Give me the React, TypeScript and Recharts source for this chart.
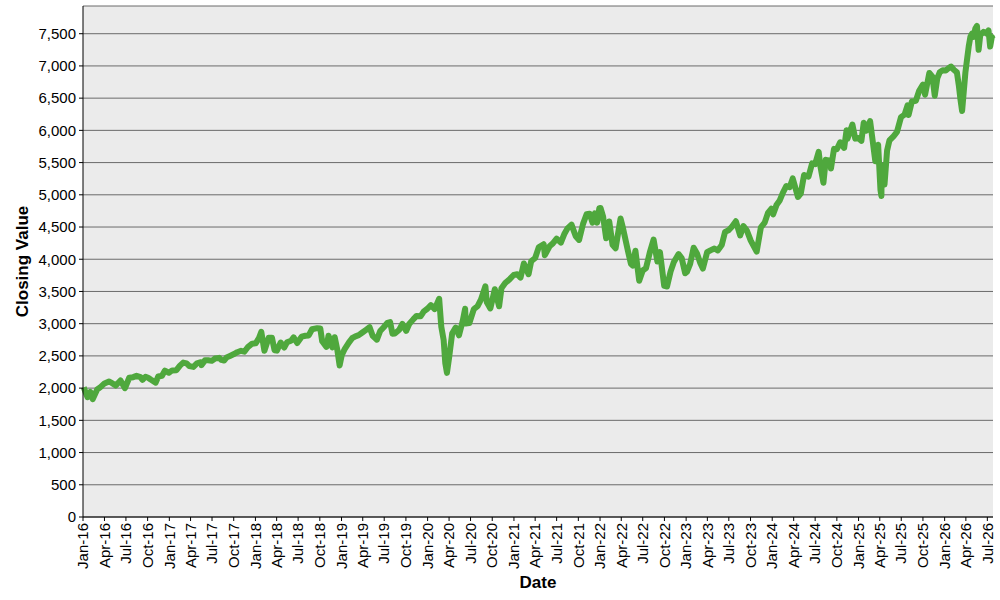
import React from 'react';
import { LineChart, Line, XAxis, YAxis, CartesianGrid } from 'recharts';

// Closing value observations (date, value)
const dates: string[] = [
  '2016-01-04','2016-01-20','2016-02-01','2016-02-11','2016-03-01','2016-03-15','2016-04-01','2016-04-20','2016-05-02','2016-05-19','2016-06-08','2016-06-27','2016-07-15','2016-08-01','2016-08-15','2016-09-01','2016-09-09','2016-09-22','2016-10-03','2016-10-14','2016-11-04','2016-11-15','2016-12-01','2016-12-13','2016-12-30',
  '2017-01-13','2017-01-31','2017-02-15','2017-03-01','2017-03-15','2017-03-27','2017-04-13','2017-04-28','2017-05-15','2017-05-17','2017-06-01','2017-06-15','2017-06-30','2017-07-14','2017-07-31','2017-08-10','2017-08-21','2017-09-01','2017-09-15','2017-10-02','2017-10-16','2017-11-01','2017-11-15','2017-12-01','2017-12-18',
  '2018-01-02','2018-01-16','2018-01-26','2018-02-08','2018-02-26','2018-03-12','2018-03-23','2018-04-02','2018-04-18','2018-05-03','2018-05-15','2018-06-01','2018-06-12','2018-06-27','2018-07-16','2018-08-01','2018-08-15','2018-08-29','2018-09-20','2018-10-03','2018-10-11','2018-10-29','2018-11-07','2018-11-23','2018-12-03','2018-12-14','2018-12-24',
  '2019-01-02','2019-01-15','2019-02-01','2019-02-15','2019-03-01','2019-03-15','2019-04-01','2019-04-15','2019-04-30','2019-05-13','2019-05-31','2019-06-14','2019-06-28','2019-07-15','2019-07-26','2019-08-05','2019-08-15','2019-09-03','2019-09-16','2019-10-02','2019-10-15','2019-11-01','2019-11-15','2019-12-02','2019-12-16','2019-12-31',
  '2020-01-15','2020-01-31','2020-02-19','2020-02-28','2020-03-09','2020-03-16','2020-03-23','2020-04-01','2020-04-14','2020-04-29','2020-05-13','2020-05-29','2020-06-08','2020-06-11','2020-06-26','2020-07-15','2020-07-31','2020-08-14','2020-09-02','2020-09-08','2020-09-23','2020-10-12','2020-10-30','2020-11-09','2020-11-25','2020-12-15','2020-12-31',
  '2021-01-15','2021-01-29','2021-02-12','2021-03-04','2021-03-15','2021-04-01','2021-04-16','2021-05-07','2021-05-12','2021-06-01','2021-06-15','2021-07-01','2021-07-19','2021-08-02','2021-08-16','2021-09-02','2021-09-20','2021-10-04','2021-10-21','2021-11-05','2021-11-18','2021-11-30','2021-12-10','2021-12-20','2021-12-29',
  '2022-01-03','2022-01-14','2022-01-27','2022-02-09','2022-02-23','2022-03-08','2022-03-29','2022-04-08','2022-04-29','2022-05-12','2022-05-20','2022-05-31','2022-06-16','2022-07-01','2022-07-15','2022-08-01','2022-08-16','2022-09-01','2022-09-12','2022-09-30','2022-10-12','2022-10-27','2022-11-10','2022-11-30','2022-12-13','2022-12-28',
  '2023-01-05','2023-01-18','2023-02-02','2023-02-16','2023-03-01','2023-03-13','2023-03-31','2023-04-14','2023-05-01','2023-05-15','2023-06-01','2023-06-15','2023-06-30','2023-07-14','2023-07-31','2023-08-18','2023-09-01','2023-09-15','2023-10-02','2023-10-27','2023-11-14','2023-11-30','2023-12-14','2023-12-28',
  '2024-01-05','2024-01-19','2024-02-01','2024-02-15','2024-03-01','2024-03-15','2024-03-28','2024-04-19','2024-05-01','2024-05-15','2024-06-03','2024-06-18','2024-07-01','2024-07-16','2024-07-24','2024-08-05','2024-08-15','2024-09-03','2024-09-06','2024-09-19','2024-10-01','2024-10-15','2024-11-01','2024-11-11','2024-11-15','2024-12-06','2024-12-18','2024-12-31',
  '2025-01-13','2025-01-23','2025-02-03','2025-02-19','2025-03-04','2025-03-13','2025-03-25','2025-04-04','2025-04-08','2025-04-09','2025-04-21','2025-05-02','2025-05-12','2025-05-30','2025-06-13','2025-06-30','2025-07-15','2025-07-28','2025-08-01','2025-08-15','2025-09-01','2025-09-15','2025-10-01','2025-10-10','2025-10-28','2025-11-10','2025-11-20','2025-12-01','2025-12-11','2025-12-24',
  '2026-01-06','2026-01-16','2026-01-28','2026-02-09','2026-02-22','2026-03-02','2026-03-09','2026-03-16','2026-03-23','2026-03-30','2026-04-06','2026-04-13','2026-04-20','2026-04-27','2026-05-04','2026-05-11','2026-05-18','2026-05-25','2026-06-01','2026-06-15','2026-06-29','2026-07-06','2026-07-13','2026-07-20','2026-07-24',
];

const closes: number[] = [
  2012,1859,1940,1829,1978,2015,2073,2102,2081,2040,2119,2000,2161,2170,2190,2170,2128,2177,2161,2133,2085,2180,2191,2271,2239,
  2275,2279,2349,2396,2385,2342,2329,2384,2402,2357,2431,2432,2423,2459,2470,2438,2428,2477,2500,2529,2557,2579,2565,2642,2690,
  2695,2776,2873,2581,2780,2783,2588,2582,2708,2630,2711,2735,2787,2700,2798,2813,2818,2914,2931,2926,2728,2641,2814,2633,2790,2599,2351,
  2510,2610,2706,2775,2804,2822,2867,2905,2946,2812,2752,2887,2942,3014,3026,2844,2848,2906,2998,2887,2996,3067,3120,3114,3191,3231,
  3289,3226,3386,2954,2747,2386,2237,2470,2846,2940,2820,3044,3232,3002,3009,3227,3271,3373,3580,3331,3237,3534,3270,3550,3630,3695,3756,
  3768,3714,3934,3768,3968,4020,4185,4233,4063,4202,4246,4320,4258,4387,4479,4537,4358,4300,4549,4697,4705,4567,4712,4568,4793,
  4796,4662,4326,4587,4225,4170,4631,4488,4132,3930,3901,4132,3667,3825,3863,4119,4305,3966,4110,3586,3577,3808,3956,4080,4019,3783,
  3808,3928,4179,4090,3951,3855,4109,4137,4167,4136,4221,4425,4450,4505,4589,4370,4515,4450,4288,4117,4495,4568,4720,4783,
  4697,4840,4906,5030,5137,5117,5254,4967,5018,5308,5283,5487,5475,5667,5427,5186,5543,5528,5408,5713,5708,5815,5728,6001,5870,6090,5872,5882,
  5836,6119,5994,6144,5778,5522,5777,5074,4982,5457,5158,5687,5844,5912,5977,6205,6244,6389,6238,6449,6460,6615,6711,6553,6890,6832,6538,6812,6901,6932,
  6930,6960,6990,6940,6900,6700,6480,6300,6600,6900,7100,7300,7450,7500,7450,7580,7620,7250,7480,7530,7500,7550,7300,7450,7420,
];

const xTickLabels: string[] = [
  'Jan-16','Apr-16','Jul-16','Oct-16','Jan-17','Apr-17','Jul-17','Oct-17',
  'Jan-18','Apr-18','Jul-18','Oct-18','Jan-19','Apr-19','Jul-19','Oct-19',
  'Jan-20','Apr-20','Jul-20','Oct-20','Jan-21','Apr-21','Jul-21','Oct-21',
  'Jan-22','Apr-22','Jul-22','Oct-22','Jan-23','Apr-23','Jul-23','Oct-23',
  'Jan-24','Apr-24','Jul-24','Oct-24','Jan-25','Apr-25','Jul-25','Oct-25',
  'Jan-26','Apr-26','Jul-26',
];

const yTicks: number[] = [0,500,1000,1500,2000,2500,3000,3500,4000,4500,5000,5500,6000,6500,7000,7500];

const DAY = 86400000;
const EPOCH = Date.UTC(2016, 0, 1);
const MONTH_INDEX: Record<string, number> = { Jan: 0, Apr: 3, Jul: 6, Oct: 9 };

const dayOf = (iso: string) => {
  const [y, m, d] = iso.split('-').map(Number);
  return Math.round((Date.UTC(y, m - 1, d) - EPOCH) / DAY);
};
const tickDay = (label: string) => {
  const [m, yy] = label.split('-');
  return Math.round((Date.UTC(2000 + Number(yy), MONTH_INDEX[m], 1) - EPOCH) / DAY);
};

const data = dates.map((d, i) => ({ day: dayOf(d), value: closes[i] }));
const xTicks = xTickLabels.map(tickDay);
const labelByDay: Record<number, string> = {};
xTickLabels.forEach((l, i) => { labelByDay[xTicks[i]] = l; });

const FONT = '"Liberation Sans", Arial, sans-serif';

const XTick = (props: any) => {
  const { x, y, payload } = props;
  return (
    <g transform={`translate(${x},${y})`}>
      <text transform="rotate(-90)" x={0} y={0} dy="0.35em" textAnchor="end" fontSize={15} fontFamily={FONT} fill="#000">
        {labelByDay[payload.value]}
      </text>
    </g>
  );
};

export default function App() {
  return (
    <div style={{ position: 'absolute', left: 0, top: 0, width: 1000, height: 600, background: '#fff' }}>
      <LineChart width={1000} height={600} data={data} margin={{ top: 6, right: 7, left: 0, bottom: 0 }}>
        <CartesianGrid vertical={false} horizontal={true} stroke="#6a6a6a" strokeWidth={1} fill="#ebebeb" fillOpacity={1} />
        <XAxis
          dataKey="day"
          type="number"
          domain={[0, 3858]}
          ticks={xTicks}
          interval={0}
          tick={<XTick />}
          tickSize={4}
          tickLine={{ stroke: '#000' }}
          axisLine={{ stroke: '#000' }}
          height={83}
          label={{ value: 'Date', position: 'insideBottom', offset: 12, fontSize: 17, fontWeight: 'bold', fill: '#000', fontFamily: FONT }}
        />
        <XAxis xAxisId="top" orientation="top" dataKey="day" type="number" domain={[0, 3858]} height={0} tick={false} tickLine={false} axisLine={{ stroke: '#000' }} />
        <YAxis
          type="number"
          domain={[0, 7930]}
          ticks={yTicks}
          interval={0}
          allowDataOverflow
          width={83}
          tickSize={4}
          tickMargin={3}
          tickLine={{ stroke: '#000' }}
          axisLine={{ stroke: '#000' }}
          tick={{ fontSize: 15, fill: '#000', fontFamily: FONT }}
          tickFormatter={(v: number) => v.toLocaleString('en-US')}
          label={{ value: 'Closing Value', angle: -90, position: 'insideLeft', offset: 22, fontSize: 17, fontWeight: 'bold', fill: '#000', fontFamily: FONT, style: { textAnchor: 'middle' } }}
        />
        <YAxis yAxisId="right" orientation="right" domain={[0, 7930]} width={0} tick={false} tickLine={false} axisLine={{ stroke: '#000' }} />
        <Line
          type="linear"
          dataKey="value"
          stroke="#4fa83d"
          strokeWidth={6}
          dot={false}
          isAnimationActive={false}
          strokeLinejoin="round"
        />
      </LineChart>
    </div>
  );
}
